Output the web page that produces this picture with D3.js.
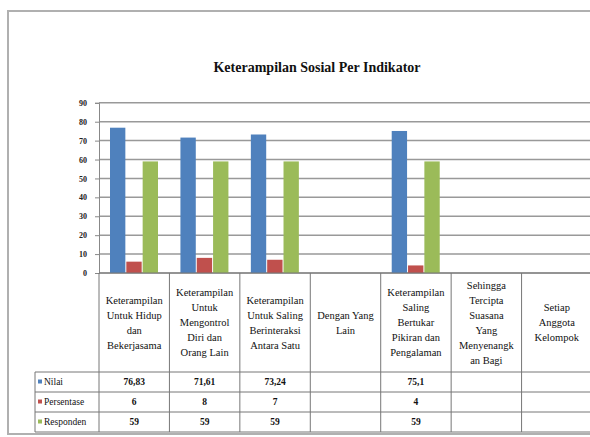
<!DOCTYPE html>
<html><head><meta charset="utf-8">
<script src="https://cdn.jsdelivr.net/npm/d3@7"></script>
<style>body{margin:0;background:#fff}svg{display:block}text{font-family:"Liberation Serif","Times New Roman",serif}</style>
</head><body><svg id="c" width="590" height="437"></svg>
<script>
const title = "Keterampilan  Sosial Per Indikator";
const categories = [
  ["Keterampilan","Untuk Hidup","dan","Bekerjasama"],
  ["Keterampilan","Untuk","Mengontrol","Diri dan","Orang Lain"],
  ["Keterampilan","Untuk Saling","Berinteraksi","Antara Satu"],
  ["Dengan Yang","Lain"],
  ["Keterampilan","Saling","Bertukar","Pikiran dan","Pengalaman"],
  ["Sehingga","Tercipta","Suasana","Yang","Menyenangk","an Bagi"],
  ["Setiap","Anggota","Kelompok"]
];
const seriesNames = ["Nilai","Persentase","Responden"];
const nilai = [76.83, 71.61, 73.24, null, 75.1, null, null];
const persentase = [6, 8, 7, null, 4, null, null];
const responden = [59, 59, 59, null, 59, null, null];
const nilaiLabels = ["76,83","71,61","73,24","","75,1","",""];
const yTicks = [0,10,20,30,40,50,60,70,80,90];
const colors = ["#4F81BD","#C0504D","#9BBB59"];

const series = [nilai, persentase, responden];
const labels = [nilaiLabels, persentase.map(v=>v==null?"":String(v)), responden.map(v=>v==null?"":String(v))];

const svg = d3.select("#c");
svg.append("rect").attr("x",8).attr("y",11).attr("width",600).attr("height",423)
  .attr("fill","none").attr("stroke","#b0b0b0").attr("stroke-width",2);

svg.append("text").attr("x",317).attr("y",72).attr("text-anchor","middle")
  .attr("font-size",14).attr("font-weight","bold").attr("fill","#111").text(title);

const x0 = 99, x1 = 592;
const x = d3.scaleBand().domain(d3.range(categories.length)).range([x0, x1]);
const y = d3.scaleLinear().domain([0,90]).range([273, 102.8]);

svg.append("g").selectAll("line").data(yTicks).join("line")
  .attr("x1",x0).attr("x2",x1).attr("y1",d=>y(d)).attr("y2",d=>y(d))
  .attr("stroke","#999").attr("stroke-width",1.5);
const yAxis = d3.axisLeft(y).tickValues(yTicks).tickSize(4).tickFormat(d3.format("d"));
const ga = svg.append("g").attr("transform",`translate(${x0},0)`).call(yAxis);
ga.select(".domain").attr("stroke","#888");
ga.selectAll(".tick line").attr("stroke","#888");
ga.selectAll("text").attr("font-size",8).attr("font-weight","bold").attr("fill","#222").attr("dx",-5)
  .style("font-family","'Liberation Serif',serif");

const inner = d3.scaleBand().domain(d3.range(3)).range([11, 59]).paddingInner(0.06);
series.forEach((s,si)=>{
  svg.append("g").selectAll("rect").data(s.map((v,i)=>({v,i})).filter(d=>d.v!=null)).join("rect")
    .attr("x",d=>x(d.i)+inner(si)).attr("width",inner.bandwidth())
    .attr("y",d=>y(d.v)).attr("height",d=>y(0)-y(d.v)).attr("fill",colors[si]);
});

const tTop = 273, hBottom = 372, rowH = 20, legX = 35;
const tg = svg.append("g");
const lc = "#777";
tg.append("line").attr("x1",x0).attr("x2",x1).attr("y1",tTop).attr("y2",tTop).attr("stroke",lc);
d3.range(4).forEach(r=>{
  const yy = hBottom + r*rowH;
  tg.append("line").attr("x1",legX).attr("x2",x1).attr("y1",yy).attr("y2",yy).attr("stroke",lc);
});
d3.range(categories.length+1).forEach(i=>{
  const xx = i<categories.length ? x(i) : x1;
  tg.append("line").attr("x1",xx).attr("x2",xx).attr("y1",tTop).attr("y2",hBottom+3*rowH).attr("stroke",lc);
});
tg.append("line").attr("x1",legX).attr("x2",legX).attr("y1",hBottom).attr("y2",hBottom+3*rowH).attr("stroke",lc);

const lh = 15, hc = (tTop+hBottom)/2;
categories.forEach((lines,i)=>{
  const cx = x(i)+x.bandwidth()/2;
  const t = tg.append("text").attr("text-anchor","middle").attr("font-size",10.5).attr("fill","#111");
  lines.forEach((ln,k)=>{
    t.append("tspan").attr("x",cx).attr("y",hc + (k-(lines.length-1)/2)*lh + 3.5).text(ln);
  });
});

seriesNames.forEach((name,r)=>{
  const cy = hBottom + r*rowH + rowH/2;
  tg.append("rect").attr("x",legX+3).attr("y",cy-2.5).attr("width",4).attr("height",4).attr("fill",colors[r]);
  tg.append("text").attr("x",legX+9).attr("y",cy+3).attr("font-size",9.5).attr("fill","#111").text(name);
  labels[r].forEach((lab,i)=>{
    tg.append("text").attr("x",x(i)+x.bandwidth()/2).attr("y",cy+3).attr("text-anchor","middle")
      .attr("font-size",9.5).attr("font-weight","bold").attr("fill","#111").text(lab);
  });
});
</script></body></html>
